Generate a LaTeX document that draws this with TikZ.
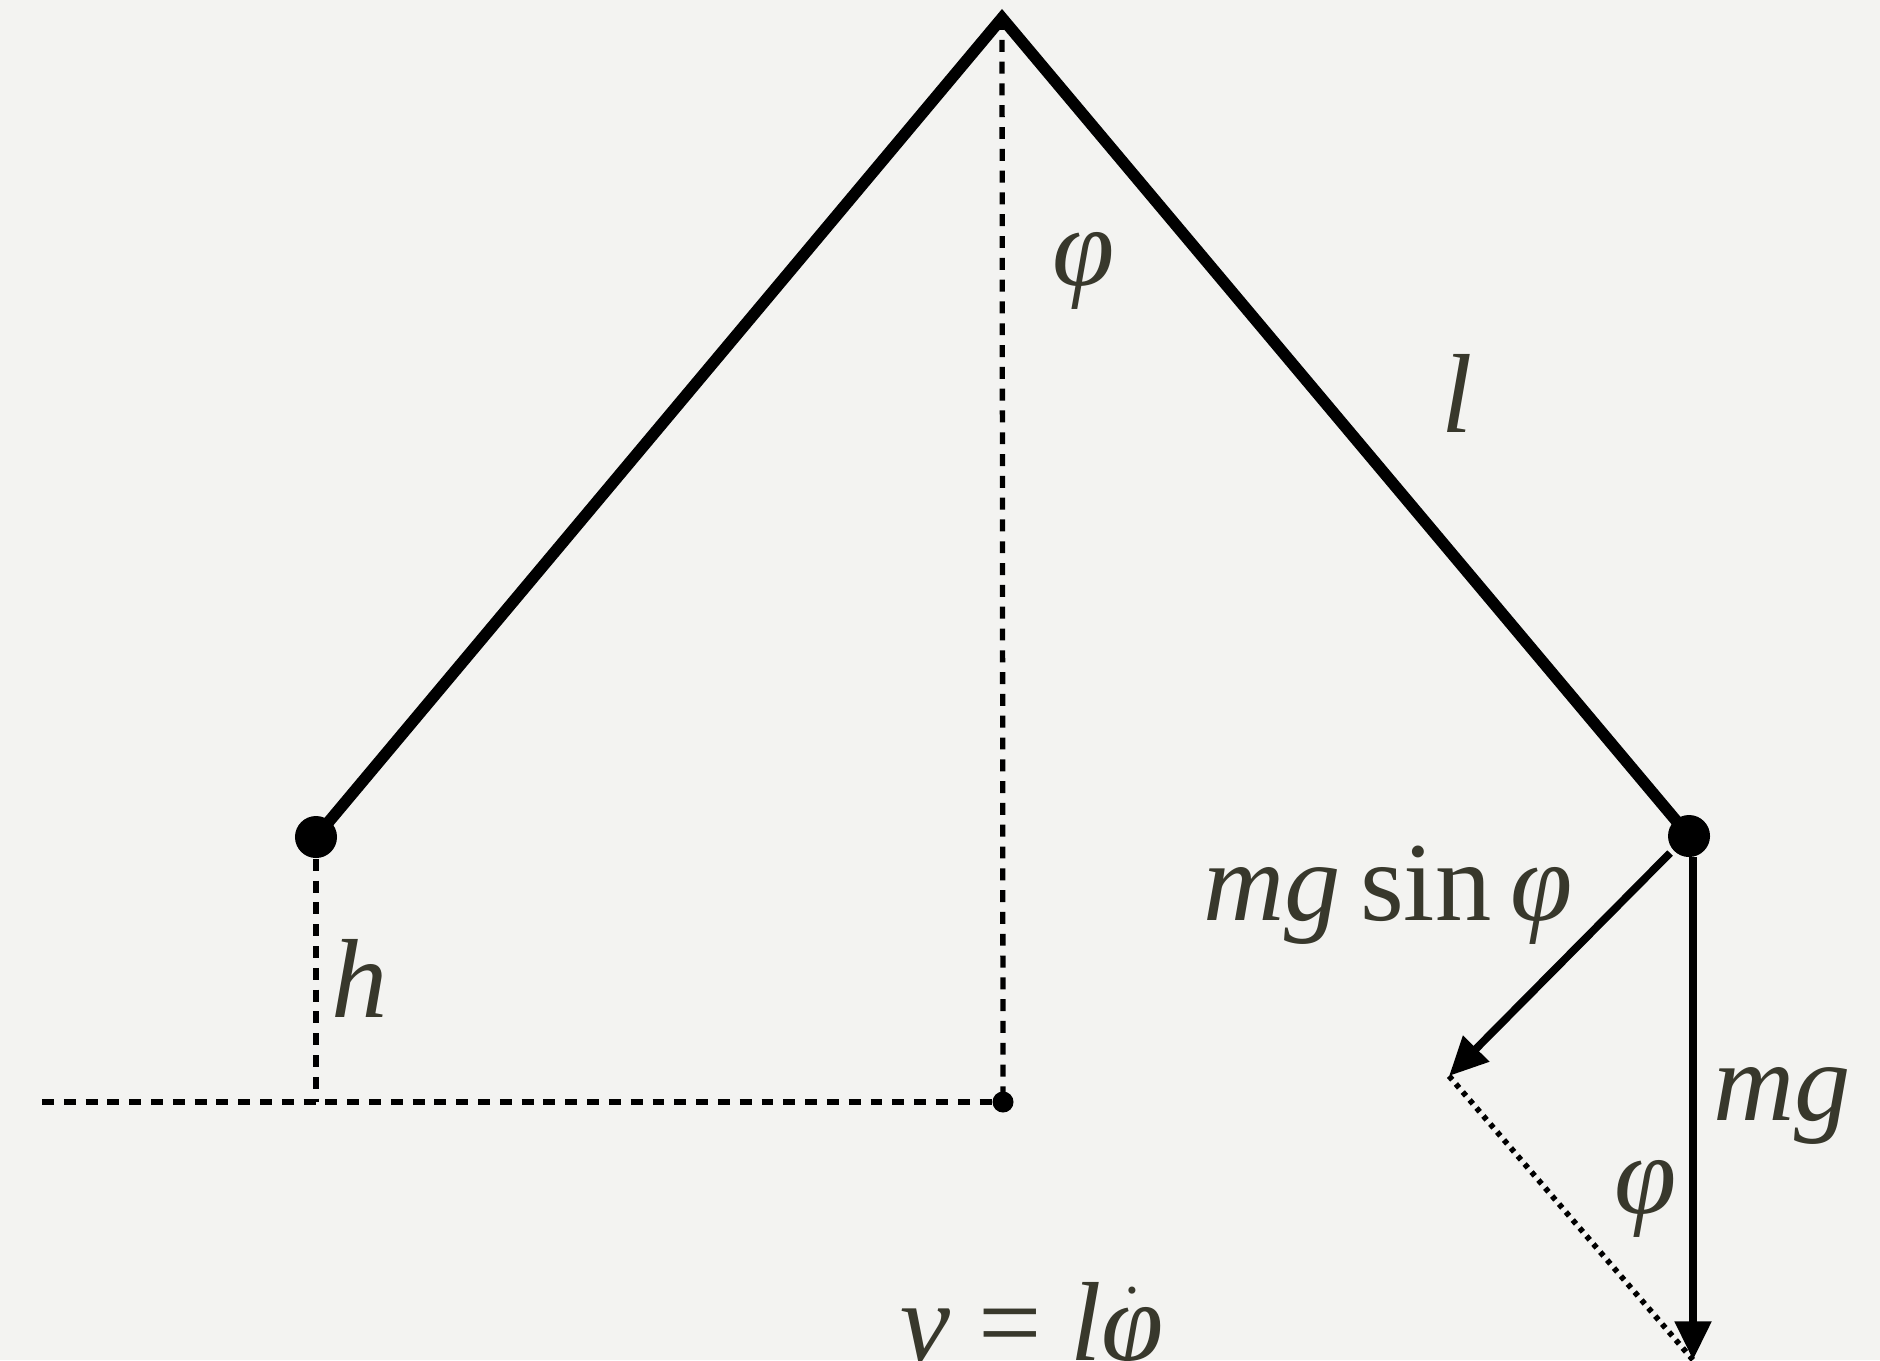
\documentclass[tikz,border=0pt]{standalone}
\usepackage{fontspec}
\setmainfont{Liberation Serif}
\usetikzlibrary{arrows.meta}
\definecolor{paper}{RGB}{243,243,241}
\definecolor{ink}{RGB}{56,56,44}
\begin{document}
\begin{tikzpicture}[x=0.01cm,y=-0.01cm,
  rod/.style={line width=3.3pt, line join=miter, black},
  dashline/.style={line width=1.5pt, dash pattern=on 3.4pt off 2.8pt, black},
  dotline/.style={line width=1.6pt, dash pattern=on 1.4pt off 1.6pt, black},
  force/.style={line width=2.2pt, black, -{Triangle[length=11pt,width=10pt]}},
  bob/.style={circle, fill=black, minimum size=0.42cm, inner sep=0pt},
  smalldot/.style={circle, fill=black, minimum size=0.21cm, inner sep=0pt},
  lab/.style={text=ink, font=\fontsize{32}{38}\selectfont, inner sep=0pt}]
\fill[paper] (0,0) rectangle (1880,1360);
\useasboundingbox (0,0) rectangle (1880,1360);
% points
\coordinate (apex) at (1002,18);
\node[bob] (lb) at (316,837) {};
\node[bob] (rb) at (1689,836) {};
\node[smalldot] (corner) at (1003,1102) {};
\coordinate (lend) at (42,1102);
\coordinate (hfoot) at (316,1102);
\coordinate (mgsS) at (1670,853);
\coordinate (mgsT) at (1449,1076);
\coordinate (mgS) at (1693,857);
\coordinate (mgT) at (1693,1360);
% dashed construction lines
\draw[dashline] (apex) -- (corner.center);
\draw[dashline] (lend) -- (corner.center);
\draw[dashline] (lb.center) -- (hfoot);
% rods
\draw[rod] (lb.center) -- (apex) -- (rb.center);
% forces
\draw[force] (mgsS) -- (mgsT);
\draw[force] (mgS) -- (mgT);
\draw[dotline] (mgsT) -- (mgT);
% labels
\node[lab] (phiA) at (1084,271) {\itshape φ};
\node[lab, anchor=base] (ll) at (1457,432) {\itshape l};
\node[lab, anchor=base] (mgsin) at (1388,920) {\itshape mg\,\upshape sin\,\itshape φ};
\node[lab, anchor=base] (hh) at (360,1017) {\itshape h};
\node[lab, anchor=base] (mgl) at (1782,1120) {\itshape mg};
\node[lab] (phiB) at (1646,1199) {\itshape φ};
\node[lab, anchor=base] (vv) at (1032,1360) {\itshape v\upshape\ =\ \itshape l$\dot{\hbox{\itshape φ}}$};
\end{tikzpicture}
\end{document}
